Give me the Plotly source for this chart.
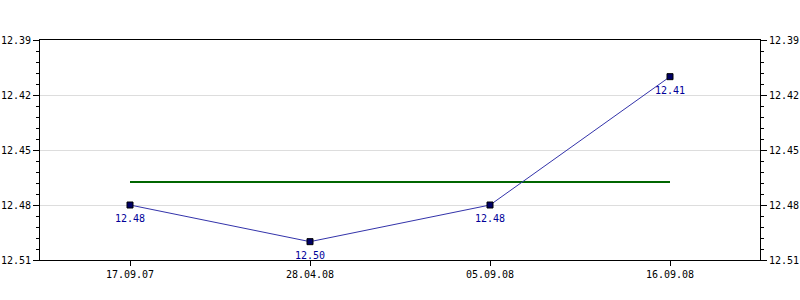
import plotly.graph_objects as go

dates = ["17.09.07", "28.04.08", "05.09.08", "16.09.08"]
values = [12.48, 12.50, 12.48, 12.41]
labels = ["12.48", "12.50", "12.48", "12.41"]
avg_value = 12.4675
y_ticks = [12.39, 12.42, 12.45, 12.48, 12.51]

font = "DejaVu Sans Mono"
fs = 10

fig = go.Figure()
fig.add_trace(go.Scatter(
    x=dates, y=[avg_value] * len(dates), mode="lines",
    line=dict(color="#006600", width=2), hoverinfo="skip", showlegend=False))
fig.add_trace(go.Scatter(
    x=dates, y=values, mode="lines+markers",
    line=dict(color="#3333aa", width=1),
    marker=dict(symbol="square", size=6, color="#000066", line=dict(color="#000000", width=1)),
    showlegend=False))
fig.add_trace(go.Scatter(x=dates, y=values, yaxis="y2", mode="lines",
                         line=dict(width=0), opacity=0, hoverinfo="skip", showlegend=False))

for d, v, t in zip(dates, values, labels):
    fig.add_annotation(x=d, y=v, text=t, showarrow=False, xanchor="center", yanchor="top",
                       yshift=-6, font=dict(family=font, size=fs, color="#000099"))

yax = dict(
    range=[12.51, 12.39], tickvals=y_ticks, ticktext=[f"{v:.2f}" for v in y_ticks],
    ticks="outside", ticklen=6, tickcolor="#000000", showline=True, linecolor="#000000",
    linewidth=1, gridcolor="#dddddd", gridwidth=1, zeroline=False, automargin=False,
    tickfont=dict(family=font, size=fs, color="#000000"),
    minor=dict(dtick=0.006, tick0=12.39, ticks="outside", ticklen=3, tickcolor="#000000", showgrid=False),
)
fig.update_layout(
    width=800, height=300,
    margin=dict(l=40, r=40, t=40, b=40),
    paper_bgcolor="#ffffff", plot_bgcolor="#ffffff",
    xaxis=dict(type="category", range=[-0.5, 3.5], ticks="outside", ticklen=5, automargin=False,
               tickcolor="#000000", showline=True, linecolor="#000000", mirror=True,
               showgrid=False, tickfont=dict(family=font, size=fs, color="#000000")),
    yaxis=dict(**yax, side="left", showgrid=True),
    yaxis2=dict(**yax, side="right", overlaying="y", showgrid=False),
)
fig.write_html("out.html")
